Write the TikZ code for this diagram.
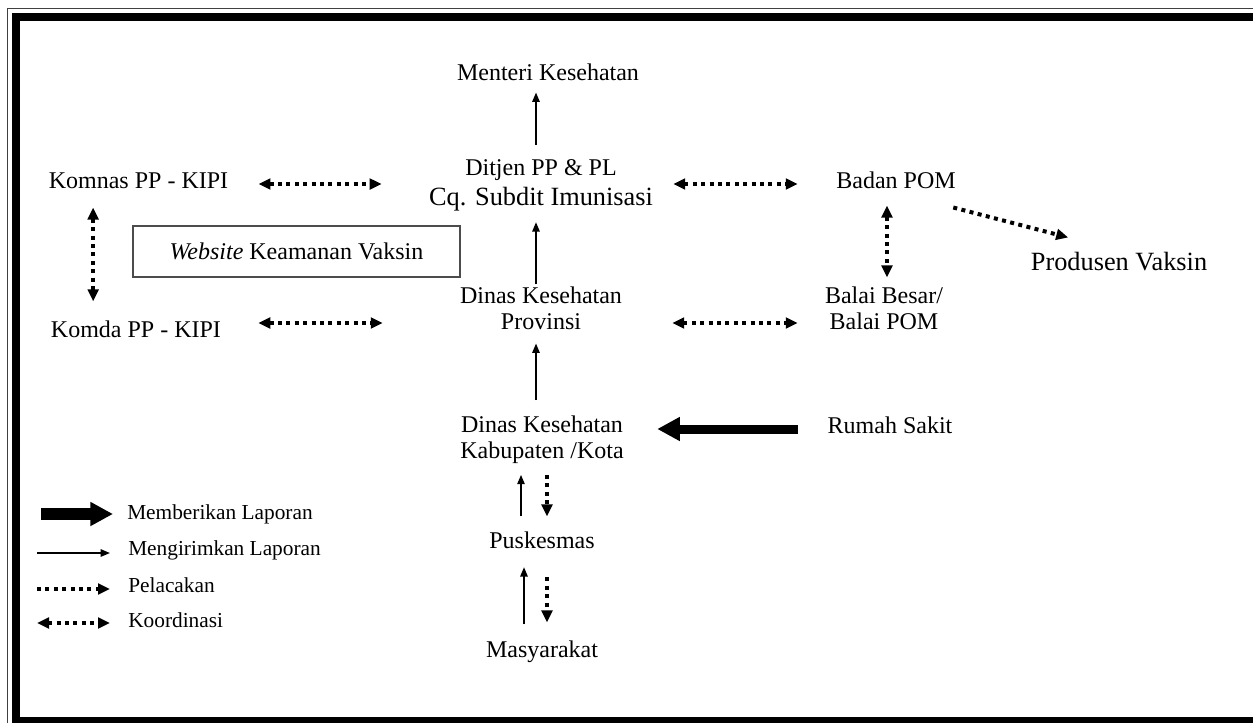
\documentclass[tikz,border=0pt]{standalone}
\usepackage{fontspec}
\setmainfont{Liberation Serif}
\usetikzlibrary{arrows.meta}
\tikzset{
  lbl/.style={inner sep=0pt,anchor=base,align=center,font=\fontsize{18}{19}\selectfont},
  bigtext/.style={font=\fontsize{19.75}{22}\selectfont},
  keytext/.style={inner sep=0pt,anchor=base west,font=\fontsize{16}{18}\selectfont},
  reportline/.style={-{Triangle[length=17pt,width=17pt]},line width=6.75pt},
  sendline/.style={-{Triangle[length=7pt,width=5.5pt]},line width=1.2pt},
  trackline/.style={-{Triangle[length=9pt,width=8pt]},line width=3pt,dash pattern=on 3pt off 3.3pt},
  linkline/.style={trackline,{Triangle[length=9pt,width=8pt]}-{Triangle[length=9pt,width=8pt]}}
}
\begin{document}
\begin{tikzpicture}[x=0.75pt,y=-0.75pt]
  \clip (0,0) rectangle (1253,722);
  \useasboundingbox (0,0) rectangle (1253,722);
  % frame
  \draw[line width=1.2pt,draw=black!75] (7.5,8.5) rectangle (1290,745);
  \draw[line width=6pt] (16,16.5) rectangle (1275,720.5);

  % chain in the middle (base = last line)
  \node[lbl] (menteri) at (548,80) {Menteri Kesehatan};
  \node[lbl,font=\fontsize{18}{22.5}\selectfont] (ditjen) at (541,205)
    {Ditjen PP \& PL\\{\fontsize{19.75}{22}\selectfont Cq. Subdit Imunisasi}};
  \node[lbl] (dinasprov) at (541,329) {Dinas Kesehatan\\Provinsi};
  \node[lbl] (dinaskab) at (542,458) {Dinas Kesehatan\\Kabupaten /Kota};
  \node[lbl] (puskesmas) at (542,548) {Puskesmas};
  \node[lbl] (masyarakat) at (542,657) {Masyarakat};

  % left and right
  \node[lbl] (komnas) at (138.5,188) {Komnas PP - KIPI};
  \node[lbl] (komda) at (136,337) {Komda PP - KIPI};
  \node[draw=black!70,line width=0.9pt,inner sep=0pt,minimum width=245.25pt,minimum height=38.25pt,
    font=\fontsize{18}{19}\selectfont] (website) at (296.5,251.5) {\textit{Website} Keamanan Vaksin};
  \node[lbl] (badan) at (896,188) {Badan POM};
  \node[lbl,bigtext] (produsen) at (1119,270) {Produsen Vaksin};
  \node[lbl] (balai) at (884,329) {Balai Besar/\\Balai POM};
  \node[lbl] (rumah) at (890,433) {Rumah Sakit};

  % legend
  \node[keytext] (kreport) at (127,519) {Memberikan Laporan};
  \node[keytext] (ksend) at (128,555) {Mengirimkan Laporan};
  \node[keytext] (ktrack) at (128,592) {Pelacakan};
  \node[keytext] (klink) at (128,627) {Koordinasi};

  % reports upward
  \draw[sendline,shorten <=10.2pt,shorten >=9pt] ([xshift=-3.75pt]ditjen.north) -- ([xshift=-3.75pt]ditjen.north |- menteri.south);
  \draw[sendline,shorten <=1.7pt,shorten >=8.5pt] ([xshift=-3.75pt]dinasprov.north) -- ([xshift=-3.75pt]dinasprov.north |- ditjen.south);
  \draw[sendline,shorten <=11.7pt,shorten >=10.5pt] ([xshift=-4.5pt]dinaskab.north) -- ([xshift=-4.5pt]dinaskab.north |- dinasprov.south);
  \draw[sendline,shorten <=11pt,shorten >=8.6pt] ([xshift=-15.75pt]puskesmas.north) -- ([xshift=-15.75pt]puskesmas.north |- dinaskab.south);
  \draw[sendline,shorten <=11.7pt,shorten >=14pt] ([xshift=-13.5pt]masyarakat.north) -- ([xshift=-13.5pt]masyarakat.north |- puskesmas.south);
  \draw[reportline,shorten <=22.3pt,shorten >=25pt] ([yshift=3pt]rumah.base west) -- ([yshift=3pt]rumah.base west -| dinaskab.east);

  % tracking
  \draw[trackline,shorten <=8.6pt,shorten >=11pt] ([xshift=3.75pt]dinaskab.south) -- ([xshift=3.75pt]dinaskab.south |- puskesmas.north);
  \draw[trackline,shorten <=21.6pt,shorten >=13.2pt] ([xshift=3.75pt]puskesmas.south) -- ([xshift=3.75pt]puskesmas.south |- masyarakat.north);
  \draw[trackline] ([xshift=-2pt,yshift=-14.25pt]badan.south east) -- ([xshift=28.2pt,yshift=10.5pt]produsen.north west);

  % coordination
  \draw[linkline,shorten <=22.5pt,shorten >=35.4pt] ([yshift=3pt]komnas.base east) -- ([yshift=3pt]komnas.base east -| ditjen.west);
  \draw[linkline,shorten <=15pt,shorten >=28.7pt] ([yshift=3pt]badan.base west -| ditjen.east) -- ([yshift=3pt]badan.base west);
  \draw[linkline,shorten <=27.75pt,shorten >=57.75pt] ([yshift=10.5pt]komda.base east) -- ([yshift=10.5pt]komda.base east -| dinasprov.west);
  \draw[linkline,shorten <=37.5pt,shorten >=20.25pt] ([yshift=10.5pt]komda.base east -| dinasprov.east) -- ([yshift=10.5pt]komda.base east -| balai.west);
  \draw[linkline,shorten <=14.25pt,shorten >=14pt] ([xshift=-34pt]komnas.south) -- ([xshift=-34pt]komnas.south |- komda.north);
  \draw[linkline,shorten <=12.75pt,shorten >=7pt] ([xshift=-6.75pt]badan.south) -- ([xshift=-6.75pt]badan.south |- balai.north);

  % legend arrows
  \draw[reportline,line width=9pt] ([xshift=-64.5pt,yshift=3.75pt]kreport.base west) -- ([xshift=-10.5pt,yshift=3.75pt]kreport.base west);
  \draw[sendline] ([xshift=-68.25pt,yshift=1.5pt]ksend.base west) -- ([xshift=-13.5pt,yshift=1.5pt]ksend.base west);
  \draw[trackline] ([xshift=-68.25pt,yshift=2.25pt]ktrack.base west) -- ([xshift=-13.5pt,yshift=2.25pt]ktrack.base west);
  \draw[linkline] ([xshift=-68.25pt,yshift=3pt]klink.base west) -- ([xshift=-13.5pt,yshift=3pt]klink.base west);
\end{tikzpicture}
\end{document}
